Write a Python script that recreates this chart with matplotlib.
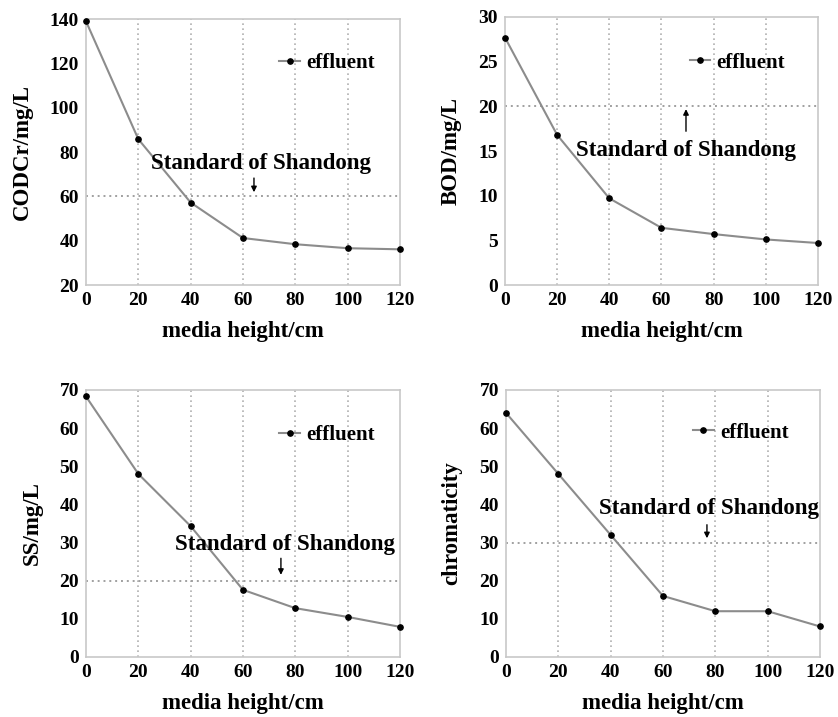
import matplotlib
matplotlib.use("Agg")
import matplotlib.pyplot as plt

plt.rcParams["font.family"] = ["Liberation Serif", "DejaVu Serif"]
plt.rcParams["font.weight"] = "bold"

heights = [0, 20, 40, 60, 80, 100, 120]

codcr = [139, 85.8, 57.2, 41.2, 38.4, 36.6, 36.1]
bod = [27.7, 16.8, 9.7, 6.4, 5.7, 5.1, 4.7]
ss = [68.3, 48.0, 34.3, 17.6, 12.8, 10.5, 7.9]
chroma = [64, 48, 32, 16, 12, 12, 8]

ylabels = ["CODCr/mg/L", "BOD/mg/L", "SS/mg/L", "chromaticity"]
standards = [60, 20, 20, 30]
ylims = [(20, 140), (0, 30), (0, 70), (0, 70)]
yticks = [range(20, 141, 20), range(0, 31, 5), range(0, 71, 10), range(0, 71, 10)]

fig = plt.figure(figsize=(8.38, 7.17), dpi=100)
rects = [
    [0.1026, 0.6025, 0.3747, 0.3710],
    [0.6026, 0.6025, 0.3735, 0.3738],
    [0.1026, 0.0837, 0.3747, 0.3724],
    [0.6038, 0.0837, 0.3747, 0.3724],
]

series = [codcr, bod, ss, chroma]
# annotation: text x, text y, arrow x, arrow from y, arrow to y
notes = [
    (66.9, 75, 64.2, 69.5, 60.6),
    (69.4, 15.1, 69.4, 16.9, 20),
    (75.9, 29.4, 74.5, 26.6, 20.8),
    (77.4, 38.8, 76.8, 35.4, 30.4),
]
legend_pos = [(0.615, 0.835), (0.59, 0.83), (0.615, 0.83), (0.595, 0.84)]

for i in range(4):
    ax = fig.add_axes(rects[i])
    ax.plot(heights, series[i], color="#8c8c8c", lw=1.5, marker="o",
            markersize=3.8, markerfacecolor="black", markeredgecolor="black",
            label="effluent", clip_on=False, zorder=3)
    ax.set_xlim(0, 120)
    ax.set_ylim(*ylims[i])
    ax.set_xticks(heights)
    ax.set_yticks(list(yticks[i]))
    ax.tick_params(length=0, labelsize=14, pad=5)
    for lab in ax.get_xticklabels() + ax.get_yticklabels():
        lab.set_fontweight("bold")
    for x in heights[1:-1]:
        ax.axvline(x, color="#b0b0b0", ls=(0, (1, 2)), lw=1.2, zorder=0)
    ax.axhline(standards[i], color="#a0a0a0", ls=(0, (1, 2)), lw=1.4, zorder=0)
    for s in ax.spines.values():
        s.set_color("#c8c8c8")
        s.set_linewidth(1.2)
    ax.set_xlabel("media height/cm", fontsize=16.5, fontweight="bold", labelpad=9)
    ax.set_ylabel(ylabels[i], fontsize=16.5, fontweight="bold", labelpad=12)

    tx, ty, axx, y0, y1 = notes[i]
    ax.annotate("", xy=(axx, y1), xytext=(axx, y0),
                arrowprops=dict(arrowstyle="-|>", color="black", lw=1,
                                mutation_scale=8))
    ax.text(tx, ty, "Standard of Shandong", fontsize=16.5,
            fontweight="bold", ha="center", va="center")

    ax.legend(loc="center left", bbox_to_anchor=legend_pos[i], frameon=False,
              handlelength=1.0, handletextpad=0.3, borderaxespad=0,
              borderpad=0, prop={"size": 15, "weight": "bold"})

fig.savefig("out.png", dpi=100)
